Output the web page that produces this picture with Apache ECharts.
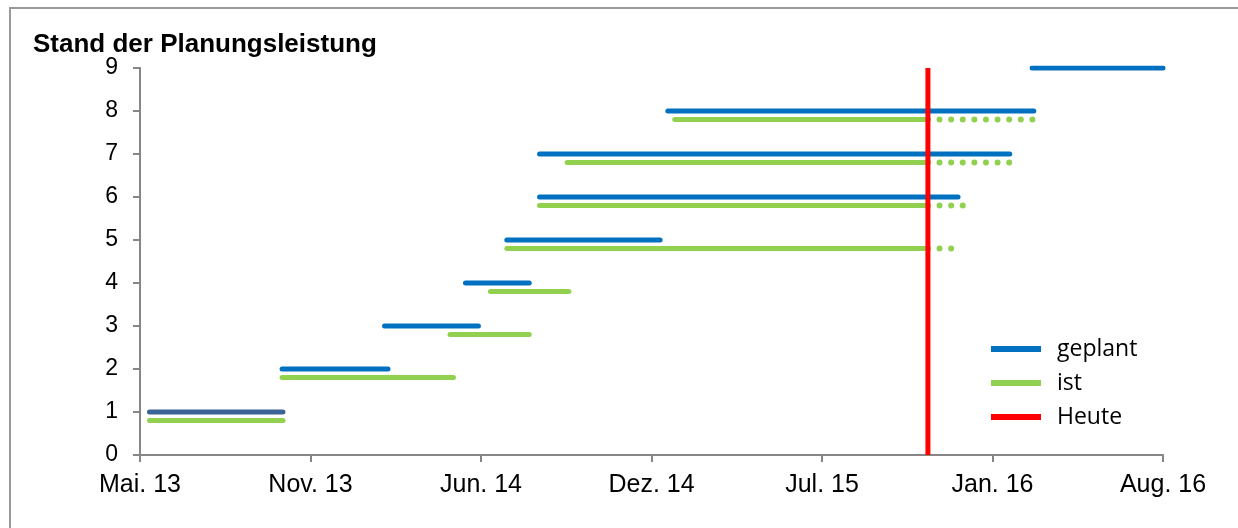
<!DOCTYPE html>
<html>
<head>
<meta charset="utf-8">
<script src="https://cdn.jsdelivr.net/npm/echarts@6/dist/echarts.min.js"></script>
<style>
html,body{margin:0;padding:0;background:#fff;}
#frame{position:absolute;left:9px;top:7px;width:1240px;height:530px;border-left:2px solid #999;border-top:2px solid #999;box-sizing:border-box;}
#chart{position:absolute;left:0;top:0;width:1238px;height:528px;}
</style>
</head>
<body>
<div id="frame"></div>
<div id="chart"></div>
<script>
// Axis start (day 0) and tick spacing in days
var axisStart = '2013-05-01';
var tickDays = 198;
var tickLabels = ['Mai. 13','Nov. 13','Jun. 14','Dez. 14','Jul. 15','Jan. 16','Aug. 16'];

var rows = [1,2,3,4,5,6,7,8,9];
// geplant segments (start, end)
var plannedStart = ['2013-05-12','2013-10-13','2014-02-09','2014-05-14','2014-07-01','2014-08-08','2014-08-08','2015-01-04','2016-03-02'];
var plannedEnd   = ['2013-10-14','2014-02-13','2014-05-29','2014-07-27','2014-12-26','2015-12-07','2016-02-05','2016-03-04','2016-08-01'];
// ist segments (start, end up to today), and projected (dotted) end
var actualStart  = ['2013-05-12','2013-10-13','2014-04-26','2014-06-12','2014-07-01','2014-08-08','2014-09-09','2015-01-12'];
var actualEnd    = ['2013-10-14','2014-04-30','2014-07-27','2014-09-11','2015-11-02','2015-11-02','2015-11-02','2015-11-02'];
var projectedEnd = [null,null,null,null,'2015-11-30','2015-12-13','2016-02-04','2016-03-02'];
var actualOffset = 0.2;
var today = '2015-11-02';

function dayOf(s){
  return Math.round((Date.parse(s) - Date.parse(axisStart)) / 86400000);
}

var BLUE = '#0070C0', BLUE_DARK = '#3B6396', GREEN = '#92D050', RED = '#FF0000';
var series = [];
plannedStart.forEach(function(s, i){
  series.push({
    name:'geplant', type:'line', showSymbol:false, silent:true, z:3,
    lineStyle:{color: i===0 ? BLUE_DARK : BLUE, width:5, cap:'round'},
    itemStyle:{color:BLUE},
    data:[[dayOf(s), rows[i]],[dayOf(plannedEnd[i]), rows[i]]]
  });
});
actualStart.forEach(function(s, i){
  var y = rows[i] - actualOffset;
  series.push({
    name:'ist', type:'line', showSymbol:false, silent:true, z:3,
    lineStyle:{color:GREEN, width:5, cap:'round'},
    itemStyle:{color:GREEN},
    data:[[dayOf(s), y],[dayOf(actualEnd[i]), y]]
  });
  if (projectedEnd[i]) {
    series.push({
      name:'ist', type:'line', showSymbol:false, silent:true, z:3,
      lineStyle:{color:GREEN, width:6, cap:'round', type:[0.01, 11.6]},
      itemStyle:{color:GREEN},
      data:[[dayOf(actualEnd[i]), y],[dayOf(projectedEnd[i]) + 2, y]]
    });
  }
});
series.push({
  name:'Heute', type:'line', showSymbol:false, silent:true, z:4,
  lineStyle:{color:RED, width:5},
  itemStyle:{color:RED},
  data:[[dayOf(today), 0],[dayOf(today), 9]]
});

var chart = echarts.init(document.getElementById('chart'), null, {renderer:'canvas'});
chart.setOption({
  animation:false,
  backgroundColor:'transparent',
  title:{
    text:'Stand der Planungsleistung', left:33, top:32, padding:0,
    textStyle:{fontFamily:'Liberation Sans', fontWeight:'bold', fontSize:26, color:'#000'}
  },
  legend:{
    orient:'vertical', left:991, top:337, padding:0, itemGap:10, itemWidth:50, itemHeight:6,
    icon:'rect',
    textStyle:{fontFamily:'Open Sans', fontSize:23, lineHeight:24, color:'#000', padding:[0,0,0,11]},
    data:[
      {name:'geplant', itemStyle:{color:BLUE}},
      {name:'ist', itemStyle:{color:GREEN}},
      {name:'Heute', itemStyle:{color:RED}}
    ]
  },
  grid:{left:140, right:75, top:68, bottom:73},
  xAxis:{
    type:'value', min:0, max:tickDays*(tickLabels.length-1), interval:tickDays,
    axisLine:{show:true, lineStyle:{color:'#868686', width:2}},
    axisTick:{show:true, length:7, lineStyle:{color:'#868686', width:2}},
    splitLine:{show:false},
    axisLabel:{
      fontFamily:'Liberation Sans', fontSize:25, color:'#000', margin:18,
      formatter:function(v){ return tickLabels[Math.round(v/tickDays)] || ''; }
    }
  },
  yAxis:{
    type:'value', min:0, max:9, interval:1,
    axisLine:{show:true, lineStyle:{color:'#868686', width:2}},
    axisTick:{show:true, length:7, lineStyle:{color:'#868686', width:2}},
    splitLine:{show:false},
    axisLabel:{fontFamily:'Liberation Sans', fontSize:23, color:'#000', margin:22}
  },
  series:series
});
</script>
</body>
</html>
